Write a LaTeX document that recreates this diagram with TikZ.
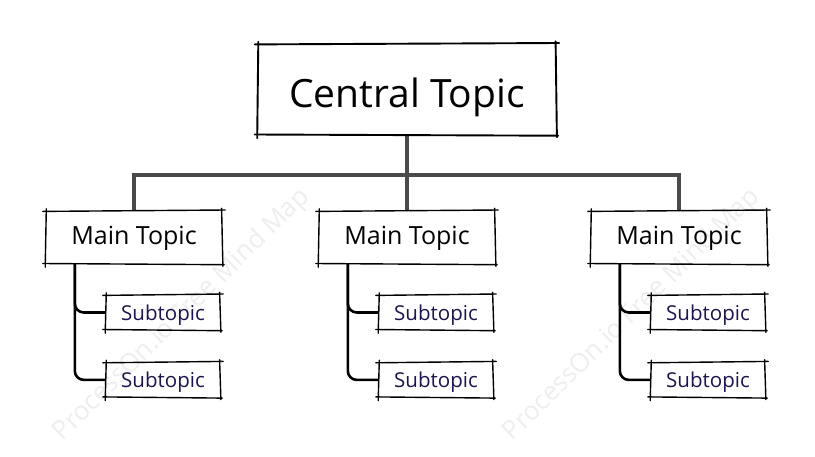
\documentclass[tikz,border=0pt]{standalone}
\usepackage{fontspec}
\setmainfont{Open Sans}
\usetikzlibrary{calc,positioning}
\usepackage[dvipsnames]{xcolor}
\definecolor{subink}{HTML}{1C1450}
\definecolor{trunkgray}{HTML}{4A4A4A}

\tikzset{
    central/.style={minimum width=298pt, minimum height=91pt, inner sep=0pt,
        text height=44pt, text depth=9pt,
        font=\fontsize{39}{42}\selectfont},
    maintopic/.style={minimum width=176pt, minimum height=53pt, inner sep=0pt,
        text height=19pt, text depth=6pt,
        font=\fontsize{25}{28}\selectfont},
    subtopic/.style={minimum width=114pt, minimum height=35pt, inner sep=0pt,
        text height=20pt, text depth=5pt,
        text=subink, font=\fontsize{20.5}{23}\selectfont},
    trunk/.style={draw=trunkgray, line width=4pt},
    branch/.style={draw=black, line width=2.6pt, rounded corners=9pt},
    pen/.style={line width=1.4pt, line cap=round},
    stamp/.style={text=gray!13, rotate=44.5, font=\fontsize{26}{28}\selectfont}
}

% rough hand drawn frame round a node
\newcommand{\roughbox}[2][1.4pt]{%
  \draw[pen, line width=#1] ($(#2.north west)+(-3,0.6)$) -- ($(#2.north east)+(3,-0.8)$);
  \draw[pen, line width=#1] ($(#2.south west)+(-3,-0.7)$) -- ($(#2.south east)+(2,0.5)$);
  \draw[pen, line width=#1] ($(#2.north west)+(0.5,-2)$) -- ($(#2.south west)+(-0.6,3)$);
  \draw[pen, line width=#1] ($(#2.north east)+(-0.6,-2.5)$) -- ($(#2.south east)+(0.7,2)$);
}

\begin{document}
\begin{tikzpicture}[x=1pt, y=-1pt]
\useasboundingbox (0,0) rectangle (815,456);

% watermark
\node[stamp] (wm1) at (182,315) {ProcessOn.io Free Mind Map};
\node[stamp] (wm2) at (632,315) {ProcessOn.io Free Mind Map};

% topics
\node[central] (ct) at (407,89.5) {Central Topic};
\foreach \i/\x in {1/134, 2/407, 3/679} {
    \node[maintopic] (m\i) at (\x,237.5) {Main Topic};
    \node[subtopic] (s\i a) at (\x+29,312.5) {Subtopic};
    \node[subtopic, below=32pt of s\i a] (s\i b) {Subtopic};
}

% connectors
\coordinate (hub) at (407,175);
\draw[trunk] (ct.south) -- (hub);
\draw[trunk] (m1.north) |- (hub) -| (m3.north);
\draw[trunk] (hub) -- (m2.north);
\foreach \i in {1,2,3} {
    \coordinate (root\i) at ($(m\i.south west)+(29,0)$);
    \draw[branch] (root\i) |- (s\i a.west);
    \draw[branch] (root\i) |- (s\i b.west);
}

% frames
\roughbox[1.9pt]{ct}
\foreach \n in {m1,m2,m3,s1a,s1b,s2a,s2b,s3a,s3b} {
    \roughbox{\n}
}
\end{tikzpicture}
\end{document}
